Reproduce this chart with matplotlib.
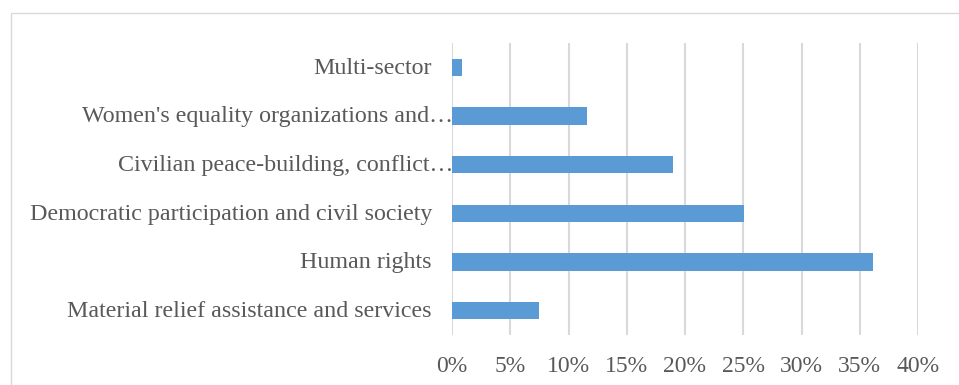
import numpy as np
import matplotlib.pyplot as plt
from matplotlib.patches import Rectangle
from matplotlib.ticker import PercentFormatter

# categories bottom -> top
categories = [
    "Material relief assistance and services",
    "Human rights",
    "Democratic participation and civil society",
    "Civilian peace-building, conflict\u2026",
    "Women's equality organizations and\u2026",
    "Multi-sector",
]
truncated = [False, False, False, True, True, False]
shares = [7.5, 36.1, 25.1, 19.0, 11.6, 0.9]
xticks = [0, 5, 10, 15, 20, 25, 30, 35, 40]

plt.rcParams['font.family'] = ['Liberation Serif', 'DejaVu Serif']

fig = plt.figure(figsize=(9.59, 3.85), dpi=100)
ax = fig.add_axes([452 / 959, 1 - 335 / 385, 466 / 959, 292 / 385])

y = np.arange(len(categories))
ax.barh(y, shares, height=0.355, color='#5B9BD5', zorder=3)

ax.set_xlim(0, 40)
ax.set_ylim(-0.5, len(categories) - 0.5)
ax.set_xticks(xticks)
ax.xaxis.set_major_formatter(PercentFormatter(decimals=0))
ax.set_yticks([])
ax.tick_params(axis='x', length=0, pad=15, labelsize=17, labelcolor='#595959')
ax.grid(axis='x', color='#d9d9d9', linewidth=1.5, zorder=0)
for s in ax.spines.values():
    s.set_visible(False)

for yi, lab, tr in zip(y, categories, truncated):
    xpos = 0.002 if tr else -0.043
    ax.text(xpos, yi - 0.02, lab, transform=ax.get_yaxis_transform(), ha='right',
            va='center', fontsize=17.3, color='#595959')

# chart area border (partly outside the crop)
fig.patches.append(Rectangle((11 / 959, -0.2), 1.2, 1.2 + (1 - 13 / 385) - 1,
                             transform=fig.transFigure, fill=False,
                             edgecolor='#d9d9d9', linewidth=1.0, clip_on=False))

fig.savefig('out.png', dpi=100)
